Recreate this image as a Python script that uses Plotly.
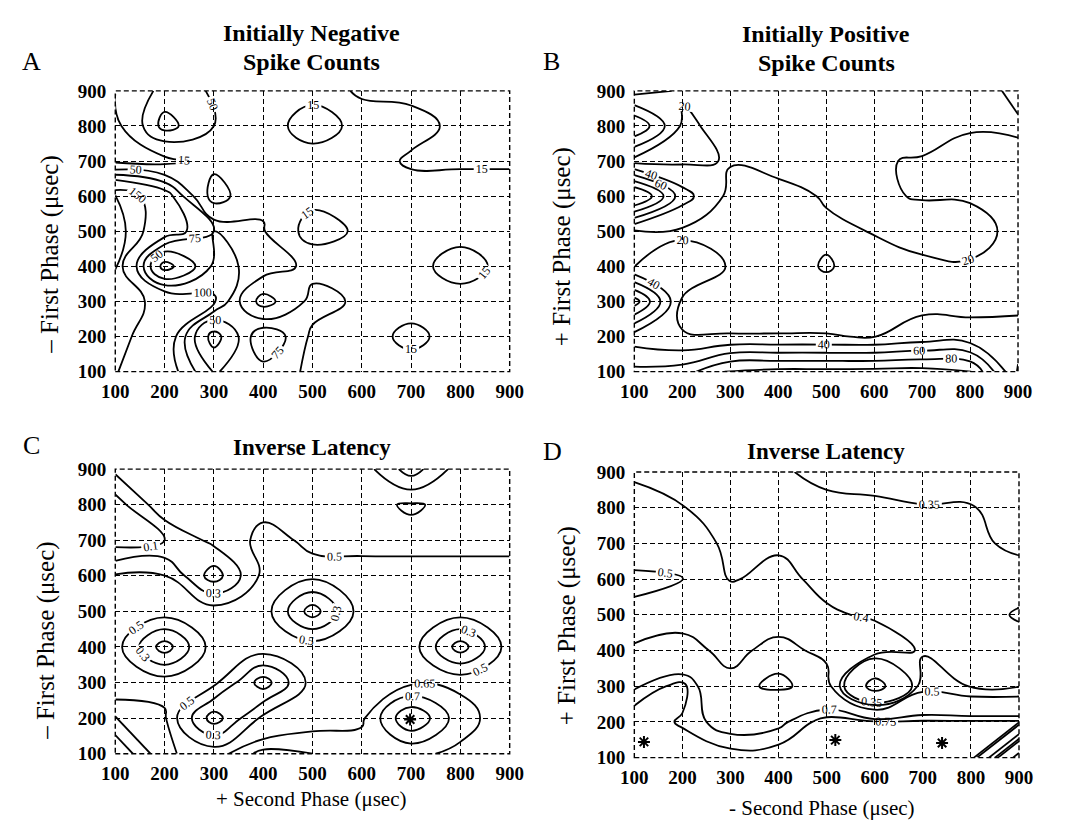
import plotly.graph_objects as go

# grid of stimulus phase durations (usec); rows = first phase, columns = second phase
phase = [100, 200, 300, 400, 500, 600, 700, 800, 900]

# A: initially negative, spike counts
spikes_neg = [
    [152, 120, 48, 65, 45, 40, 40, 40, 35],
    [160, 130, 0, 100, 45, 40, 0, 40, 35],
    [165, 140, 105, 0, 60, 45, 40, 30, 30],
    [176, 0, 80, 70, 40, 30, 27, 0, 27],
    [190, 120, 75, 52, 0, 21, 25, 27, 27],
    [180, 120, 0, 45, 25, 25, 25, 25, 25],
    [8, 5, 24, 30, 30, 25, 12, 12, 12],
    [5, 85, 50, 30, 0, 25, 22, 10, 10],
    [16, 60, 48, 30, 25, 12, 10, 8, 8],
]
levels_neg = [15, 50, 75, 100, 150, 175]

# B: initially positive, spike counts
spikes_pos = [
    [65, 70, 104, 106, 106, 107, 108, 102, 18],
    [30, 20.5, 20.5, 20.5, 20.5, 19.5, 27.5, 26, 27.5],
    [110, 18, 15, 15, 15, 15, 15, 15, 15],
    [19, 29, 19, 15, 21, 15, 18, 19, 18],
    [17, 17, 15, 15, 18, 20.5, 24, 24, 17],
    [130, 48, 15, 16, 21, 21, 19.5, 19, 19],
    [13, 17, 21, 24, 25, 21, 19, 18, 18],
    [80, 17, 25, 26, 26, 26, 26, 20.5, 21],
    [13, 22, 25, 26, 26, 26, 26, 24, 18],
]
levels_pos = [20, 40, 60, 80, 100]

# C: initially negative, inverse latency
latency_neg = [
    [0.80, 0.66, 0.62, 0.72, 0.70, 0.68, 0.66, 0.64, 0.62],
    [0.705, 0.67, 0.00, 0.55, 0.62, 0.64, 0.80, 0.67, 0.62],
    [0.60, 0.60, 0.55, 0.00, 0.58, 0.62, 0.64, 0.64, 0.64],
    [0.58, 0.00, 0.60, 0.62, 0.60, 0.62, 0.60, 0.00, 0.60],
    [0.55, 0.60, 0.60, 0.60, 0.00, 0.60, 0.60, 0.60, 0.60],
    [0.52, 0.505, 0.00, 0.55, 0.55, 0.55, 0.56, 0.56, 0.56],
    [0.00, 0.10, 0.36, 0.55, 0.47, 0.46, 0.45, 0.45, 0.45],
    [0.00, 0.45, 0.42, 0.45, 0.45, 0.45, 0.52, 0.45, 0.45],
    [0.35, 0.42, 0.45, 0.45, 0.45, 0.40, 0.00, 0.40, 0.42],
]
levels_lat_neg = [0.1, 0.3, 0.5, 0.65, 0.7, 0.75]

# D: initially positive, inverse latency
latency_pos = [
    [0.82, 0.80, 0.78, 0.79, 0.80, 0.80, 0.80, 0.80, 0.00],
    [0.80, 0.74, 0.66, 0.68, 0.78, 0.76, 0.76, 0.76, 0.76],
    [0.69, 0.78, 0.53, 0.48, 0.55, 0.00, 0.45, 0.395, 0.395],
    [0.505, 0.537, 0.47, 0.537, 0.47, 0.45, 0.39, 0.37, 0.37],
    [0.48, 0.46, 0.45, 0.44, 0.41, 0.39, 0.37, 0.37, 0.345],
    [0.52, 0.505, 0.395, 0.42, 0.38, 0.37, 0.37, 0.37, 0.37],
    [0.44, 0.45, 0.38, 0.39, 0.37, 0.37, 0.36, 0.36, 0.34],
    [0.45, 0.402, 0.38, 0.37, 0.37, 0.36, 0.353, 0.353, 0.33],
    [0.38, 0.37, 0.37, 0.36, 0.33, 0.33, 0.32, 0.32, 0.32],
]
levels_lat_pos = [0.1, 0.35, 0.4, 0.5, 0.7, 0.75]

# best-response markers (asterisks)
star_a_x, star_a_y = [88], [500]
star_b_x, star_b_y = [82, 82, 648], [583, 241, 69]
star_c_x, star_c_y = [88, 698], [100, 196]
star_d_x, star_d_y = [120, 518, 740], [144, 149, 141]

SERIF = "Liberation Serif"

fig = go.Figure()

panels = [
    (spikes_neg, levels_neg, "d", "x", "y", star_a_x, star_a_y),
    (spikes_pos, levels_pos, "d", "x2", "y2", star_b_x, star_b_y),
    (latency_neg, levels_lat_neg, ".2~f", "x3", "y3", star_c_x, star_c_y),
    (latency_pos, levels_lat_pos, ".2~f", "x4", "y4", star_d_x, star_d_y),
]

for z, levels, fmt, xa, ya, sx, sy in panels:
    for lev in levels:
        fig.add_trace(go.Contour(
            x=phase, y=phase, z=z,
            autocontour=False,
            contours=dict(start=lev, end=lev, size=0.01 if fmt != "d" else 1,
                          coloring="lines", showlabels=True,
                          labelfont=dict(family=SERIF, size=12, color="black"),
                          labelformat=fmt),
            colorscale=[[0, "black"], [1, "black"]],
            showscale=False,
            line=dict(width=1.8, smoothing=1.3),
            hoverinfo="skip",
            xaxis=xa, yaxis=ya,
        ))
    fig.add_trace(go.Scatter(
        x=sx, y=sy, mode="markers",
        marker=dict(symbol="asterisk-open", size=10, color="black",
                    line=dict(width=2, color="black")),
        cliponaxis=False, hoverinfo="skip", showlegend=False,
        xaxis=xa, yaxis=ya,
    ))

W, H = 1070, 831

# plot boxes in window pixels: (left, right), (top, bottom)
boxes = {
    "": ((104, 509), (83, 371)),
    "2": ((637, 1031), (83, 371)),
    "3": ((104, 509), (471, 763)),
    "4": ((637, 1032), (474, 767)),
}

axis_common = dict(
    range=[100, 900], tickvals=phase, ticktext=[str(v) for v in phase],
    showgrid=True, gridcolor="black", griddash="5px,3px", gridwidth=1.4,
    zeroline=False, showline=False, ticks="", fixedrange=True,
    tickfont=dict(family=SERIF, size=19, color="black", weight="bold"),
)

for key, ((x0, x1), (y0, y1)) in boxes.items():
    fig.layout["xaxis" + key] = dict(
        axis_common, domain=[x0 / W, x1 / W], anchor="y" + key,
        ticklabelstandoff=6)
    fig.layout["yaxis" + key] = dict(
        axis_common, domain=[1 - y1 / H, 1 - y0 / H], anchor="x" + key,
        ticklabelstandoff=8)
    fig.add_shape(type="rect", xref=("x" + key if key else "x") + " domain",
                  yref=("y" + key if key else "y") + " domain",
                  x0=0, x1=1, y0=0, y1=1,
                  line=dict(color="black", width=1.4, dash="5px,3px"))


def ann(text, px, py, size, bold=False, angle=0):
    fig.add_annotation(
        text=f"<b>{text}</b>" if bold else text,
        x=px / W, y=1 - py / H, xref="paper", yref="paper",
        showarrow=False, textangle=angle,
        font=dict(family=SERIF, size=size, color="black"),
        xanchor="center", yanchor="middle",
    )


ann("Initially Negative", 306, 24, 24, bold=True)
ann("Spike Counts", 306, 53, 24, bold=True)
ann("Initially Positive", 834, 25, 24, bold=True)
ann("Spike Counts", 834, 54, 24, bold=True)
ann("Inverse Latency", 306, 449, 23, bold=True)
ann("Inverse Latency", 834, 453, 23, bold=True)

ann("A", 18, 53, 26)
ann("B", 552, 53, 26)
ann("C", 18, 447, 26)
ann("D", 553, 453, 26)

ann("– First Phase (μsec)", 37, 251, 25, angle=-90)
ann("+ First Phase (μsec)", 563, 243, 25, angle=-90)
ann("– First Phase (μsec)", 33, 647, 25, angle=-90)
ann("+ First Phase (μsec)", 568, 632, 25, angle=-90)

ann("+ Second Phase (μsec)", 305, 809, 21)
ann("- Second Phase (μsec)", 830, 819, 21)

fig.update_layout(
    width=W, height=H, autosize=False,
    margin=dict(l=0, r=0, t=0, b=0),
    paper_bgcolor="white", plot_bgcolor="white",
    showlegend=False,
)

fig.write_html("out.html")
